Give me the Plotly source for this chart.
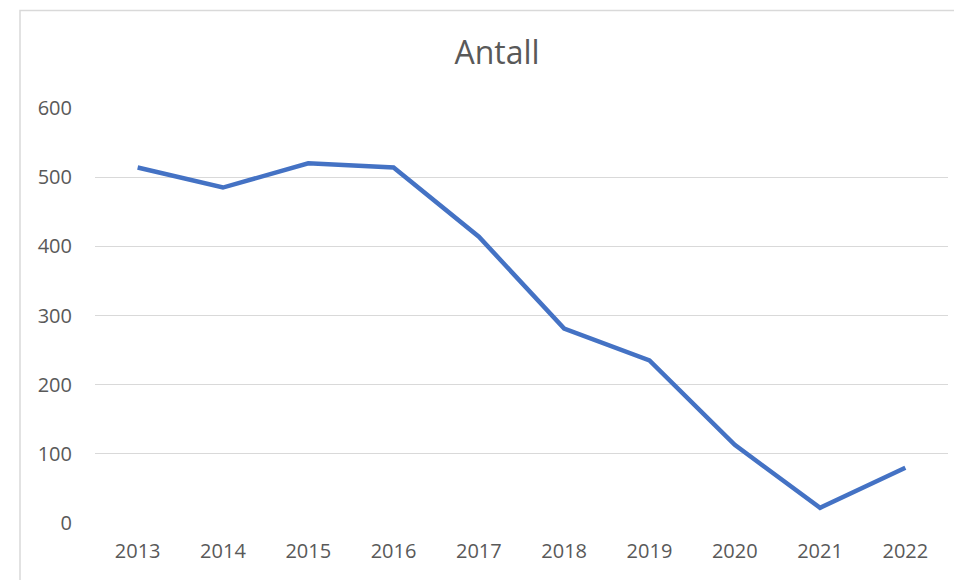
import plotly.graph_objects as go

years = ["2013", "2014", "2015", "2016", "2017", "2018", "2019", "2020", "2021", "2022"]
antall = [514, 485, 520, 514, 414, 281, 235, 113, 22, 80]
y_ticks = [0, 100, 200, 300, 400, 500, 600]

# page is rendered with an 8px body margin; compensate
OFF = 8
W, H = 962 - OFF, 580 - OFF
L = 95 - OFF
T = 107.5 - OFF
R = 962 - 948
B = 580 - 522.7
pw, ph = W - L - R, H - T - B

fig = go.Figure()
fig.add_trace(go.Scatter(
    x=years, y=antall, mode="lines",
    line=dict(color="#4472C4", width=4.5),
    hoverinfo="x+y",
))

fig.update_layout(
    width=W, height=H,
    margin=dict(l=L, r=R, t=T, b=B),
    paper_bgcolor="white", plot_bgcolor="white",
    showlegend=False,
    font=dict(family="Open Sans", color="#595959", size=20),
    title=dict(text="Antall", x=(497 - 95) / pw, xref="paper", xanchor="center",
               y=1 - (53 - OFF) / H, yanchor="middle",
               font=dict(size=32, color="#595959")),
    xaxis=dict(type="category", range=[-0.5, len(years) - 0.5],
               showgrid=False, zeroline=False, showline=False,
               ticks="", tickfont=dict(size=20, color="#595959"),
               ticklabelstandoff=14, fixedrange=True),
    yaxis=dict(range=[0, 600], tickvals=y_ticks, showgrid=True, gridcolor="#D9D9D9",
               gridwidth=1.3, zeroline=False, showline=False, ticks="",
               tickfont=dict(size=20, color="#595959"), ticklabelstandoff=22,
               fixedrange=True),
    shapes=[dict(type="rect", xref="paper", yref="paper",
                 x0=(20 - 95) / pw, x1=(962 + 10 - 95) / pw,
                 y0=-(B + 10) / ph, y1=(580 - 10 - B) / ph,
                 line=dict(color="#D9D9D9", width=1.5), fillcolor="rgba(0,0,0,0)",
                 layer="below")],
)

fig.write_html("out.html")
